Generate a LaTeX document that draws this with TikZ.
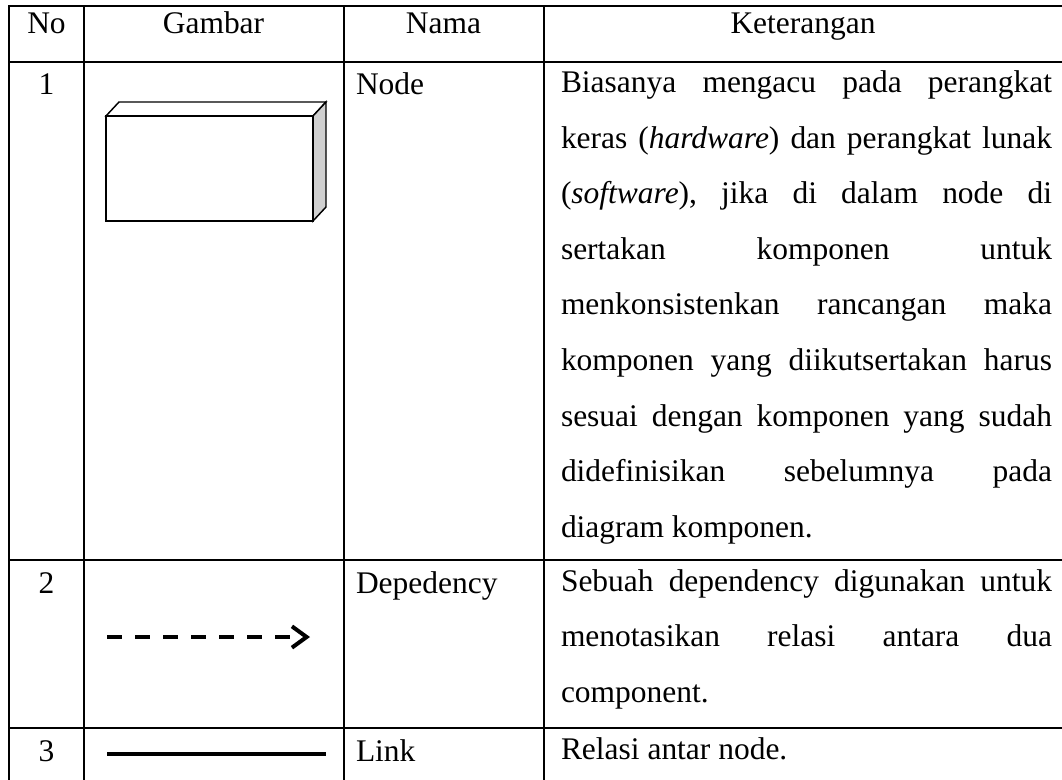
\documentclass[tikz,border=0pt]{standalone}
\usepackage{fontspec}
\setmainfont{Liberation Serif}
\usetikzlibrary{arrows.meta}
\definecolor{sidegray}{RGB}{208,208,208}
\newcommand{\cellfont}{\fontsize{23.6pt}{41.6pt}\selectfont\frenchspacing}
\newcommand{\jline}[1]{\hbox to 368.25pt{\spaceskip=.25em plus 1fil minus .05em\relax #1}}

\begin{document}
\begin{tikzpicture}[x=0.75pt, y=-0.75pt, line width=1.5pt,
    every node/.style={font=\cellfont, inner sep=0pt},
    head/.style={anchor=base},
    num/.style={anchor=base},
    cell/.style={anchor=base west},
    box/.style={line width=1.1pt, line join=miter},
    dep/.style={line width=3pt, dash pattern=on 11.6pt off 9.4pt,
      -{Straight Barb[length=11pt,width=16pt]}},
    link/.style={line width=3.4pt}]
  \path[use as bounding box] (0,0) rectangle (1062,780);
  \clip (0,0) rectangle (1062,780);
  \draw (9.3,6) rectangle (1064,782);
  \foreach \y in {62,560,728} \draw (9.3,\y) -- (1064,\y);
  \foreach \x in {84,343.5,544} \draw (\x,6) -- (\x,782);

  \node[head] (no) at (46.5,34) {No};
  \node[head] (gambar) at (213.5,34) {Gambar};
  \node[head] (nama) at (443.5,34) {Nama};
  \node[head] (ket) at (803,34) {Keterangan};

  \node[num] (n1) at (46.5,95) {1};
  \node[cell] (nama1) at (355,95) {Node};
  \draw[box, fill=white] (106,116) -- (119,102) -- (326,102) -- (313,116) -- cycle;
  \draw[box, fill=sidegray] (313,116) -- (326,102) -- (326,207) -- (313,221) -- cycle;
  \draw[box, fill=white] (106,116) rectangle (313,221);
  \foreach \t [count=\i from 0] in {{Biasanya mengacu pada perangkat},
      {keras (\textit{hardware}) dan perangkat lunak},
      {(\textit{software}), jika di dalam node di},
      {sertakan komponen untuk},
      {menkonsistenkan rancangan maka},
      {komponen yang diikutsertakan harus},
      {sesuai dengan komponen yang sudah},
      {didefinisikan sebelumnya pada}}
    \node[cell] (ket1-\i) at (560,93+55.5*\i) {\jline{\t}};
  \node[cell] (ket1-8) at (560,537) {diagram komponen.};

  \node[num] (n2) at (46.5,593) {2};
  \node[cell] (nama2) at (355,593) {Depedency};
  \coordinate (dep a) at (107,637);
  \coordinate (dep b) at (310,637);
  \draw[dep] (dep a) -- (dep b);
  \node[cell] (ket2-0) at (560,591) {\jline{Sebuah dependency digunakan untuk}};
  \node[cell] (ket2-1) at (560,646.5) {\jline{menotasikan relasi antara dua}};
  \node[cell] (ket2-2) at (560,702) {component.};

  \node[num] (n3) at (46.5,761) {3};
  \node[cell] (nama3) at (355,761) {Link};
  \coordinate (link a) at (107,754);
  \coordinate (link b) at (326,754);
  \draw[link] (link a) -- (link b);
  \node[cell] (ket3-0) at (560,759) {Relasi antar node.};
\end{tikzpicture}
\end{document}
